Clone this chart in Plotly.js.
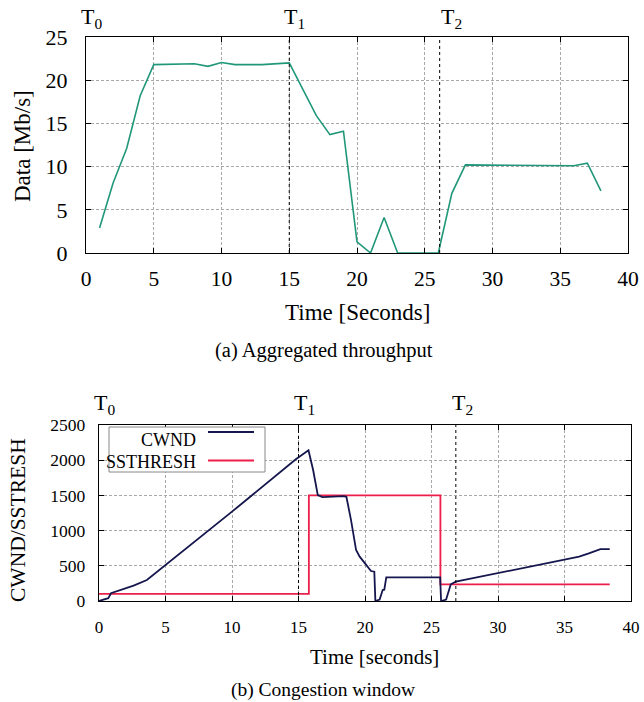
<!DOCTYPE html>
<html>
<head>
<meta charset="utf-8">
<script src="https://cdn.plot.ly/plotly-3.0.1.min.js"></script>
<style>html,body{margin:0;padding:0;background:#fff;}#chart{width:644px;height:702px;}</style>
</head>
<body>
<div id="chart"></div>
<script>
// ---- Data: (a) Aggregated throughput ----
var thrTime = [1, 2, 3, 4, 5, 8, 9, 10, 11, 13, 15, 17, 18, 19, 20, 21, 22, 23, 26, 27, 28, 36, 37, 38];
var throughput = [2.9, 8.1, 12.1, 18.2, 21.8, 21.9, 21.6, 22.05, 21.8, 21.8, 22.0, 15.9, 13.7, 14.1, 1.3, 0, 4.1, 0, 0, 6.9, 10.2, 10.1, 10.4, 7.2];
var thrEvents = [15, 26.1];

// ---- Data: (b) Congestion window ----
var cwndTime = [0, 0.7, 0.9, 1.6, 2.6, 3.6, 5.0, 10.0, 14.8, 15.75, 16.1, 16.45, 16.8, 18.4, 18.6, 18.95, 19.33, 19.6, 20.0, 20.45, 20.7, 20.78, 21.1, 21.33, 21.45, 21.6, 25.65, 25.72, 26.1, 26.28, 26.45, 26.83, 36.1, 36.83, 37.7, 38.4];
var cwnd = [0, 40, 110, 156, 218, 298, 511, 1269, 2013, 2140, 1860, 1505, 1475, 1490, 1480, 1150, 724, 630, 535, 426, 416, 0, 20, 156, 160, 336, 336, 0, 20, 147, 237, 275, 630, 677, 738, 738];
var ssTime = [0, 15.78, 15.78, 25.67, 25.67, 38.4];
var ssthresh = [100, 100, 1500, 1500, 235, 235];
var cwEvents = [15, 26.83];

var eventLabels = ['T<sub>0</sub>', 'T<sub>1</sub>', 'T<sub>2</sub>'];
var xTicks = [0, 5, 10, 15, 20, 25, 30, 35, 40];
var yTicksA = [0, 5, 10, 15, 20, 25];
var yTicksB = [0, 500, 1000, 1500, 2000, 2500];

var W = 644, H = 702;
function X(px) { return px / W; }
function Y(py) { return 1 - py / H; }
var FONT = '"Liberation Serif", "Times New Roman", "DejaVu Serif", serif';

var traces = [
  {x: thrTime, y: throughput, type: 'scatter', mode: 'lines', xaxis: 'x', yaxis: 'y',
   line: {color: '#21977a', width: 1.6}, showlegend: false},
  {x: ssTime, y: ssthresh, type: 'scatter', mode: 'lines', xaxis: 'x2', yaxis: 'y2', name: 'SSTHRESH',
   line: {color: '#ec1f4b', width: 1.8}, showlegend: false},
  {x: cwndTime, y: cwnd, type: 'scatter', mode: 'lines', xaxis: 'x2', yaxis: 'y2', name: 'CWND',
   line: {color: '#15164d', width: 1.8}, showlegend: false}
];

function axis(domain, range, ticks, size, anchor, standoff) {
  return {
    domain: domain, range: range, anchor: anchor, tickmode: 'array', tickvals: ticks,
    ticktext: ticks.map(String), ticks: 'inside', ticklen: 5, tickcolor: '#000',
    showline: true, linecolor: '#000', linewidth: 1.2, mirror: 'ticks',
    showgrid: true, gridcolor: '#a8a8a8', griddash: '3px,2px', gridwidth: 1,
    zeroline: false, automargin: false, fixedrange: true,
    tickfont: {family: FONT, size: size, color: '#000'}, ticklabelstandoff: standoff
  };
}

var shapes = [];
thrEvents.forEach(function (t) {
  shapes.push({type: 'line', xref: 'x', yref: 'y', x0: t, x1: t, y0: 0, y1: 25,
    line: {color: '#000', width: 1, dash: 'dot'}, layer: 'above'});
});
cwEvents.forEach(function (t) {
  shapes.push({type: 'line', xref: 'x2', yref: 'y2', x0: t, x1: t, y0: 0, y1: 2500,
    line: {color: '#000', width: 1, dash: 'dot'}, layer: 'above'});
});
// custom gnuplot-style legend
shapes.push({type: 'rect', xref: 'paper', yref: 'paper', x0: X(109), x1: X(265), y0: Y(472), y1: Y(427),
  line: {color: '#888', width: 1}, fillcolor: 'rgba(255,255,255,1)', layer: 'above'});
shapes.push({type: 'line', xref: 'paper', yref: 'paper', x0: X(208), x1: X(254), y0: Y(432), y1: Y(432),
  line: {color: '#15164d', width: 1.8}, layer: 'above'});
shapes.push({type: 'line', xref: 'paper', yref: 'paper', x0: X(208), x1: X(254), y0: Y(460.5), y1: Y(460.5),
  line: {color: '#ec1f4b', width: 1.8}, layer: 'above'});

function ann(text, px, py, size, opts) {
  var a = {text: text, xref: 'paper', yref: 'paper', x: X(px), y: Y(py), showarrow: false,
    xanchor: 'center', yanchor: 'middle', font: {family: FONT, size: size, color: '#000'}};
  for (var k in opts) a[k] = opts[k];
  return a;
}

var annotations = [
  ann('Data [Mb/s]', 22, 146, 23, {textangle: -90}),
  ann('Time [Seconds]', 357, 312, 23),
  ann('(a) Aggregated throughput', 324, 350, 20.5),
  ann(eventLabels[0], 91, 18, 22),
  ann(eventLabels[1], 294, 18, 22),
  ann(eventLabels[2], 451, 18, 22),
  ann('CWND/SSTRESH', 18, 520, 21.5, {textangle: -90}),
  ann('Time [seconds]', 374, 657, 21),
  ann('(b) Congestion window', 323, 690, 19.5),
  ann(eventLabels[0], 104, 404, 22),
  ann(eventLabels[1], 304, 404, 22),
  ann(eventLabels[2], 462, 404, 22),
  ann('CWND', 198, 440, 18, {xanchor: 'right'}),
  ann('SSTHRESH', 198, 462, 18, {xanchor: 'right'})
];

var layout = {
  width: W, height: H, margin: {l: 0, r: 0, t: 0, b: 0}, paper_bgcolor: '#fff', plot_bgcolor: '#fff',
  showlegend: false,
  font: {family: FONT, color: '#000'},
  xaxis: axis([X(86), X(628)], [0, 40], xTicks, 21.5, 'y', 6),
  yaxis: axis([Y(253), Y(37)], [0, 25], yTicksA, 22, 'x', 13),
  xaxis2: axis([X(99), X(631)], [0, 40], xTicks, 17, 'y2', 10),
  yaxis2: axis([Y(601), Y(425)], [0, 2500], yTicksB, 17.5, 'x2', 9),
  shapes: shapes,
  annotations: annotations
};

Plotly.newPlot('chart', traces, layout, {displayModeBar: false, staticPlot: true});
</script>
</body>
</html>
